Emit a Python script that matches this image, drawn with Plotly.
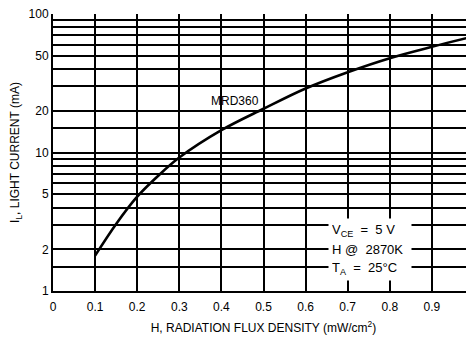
import plotly.graph_objects as go

# Data
flux = [0.1, 0.15, 0.2, 0.25, 0.3, 0.4, 0.5, 0.6, 0.7, 0.8, 0.9, 1.0]
current = [1.8, 3.05, 4.8, 6.8, 9.2, 14.5, 20.7, 29, 38, 48, 58, 69]

x_ticks = [0, 0.1, 0.2, 0.3, 0.4, 0.5, 0.6, 0.7, 0.8, 0.9, 1]
x_labels = ["0", "0.1", "0.2", "0.3", "0.4", "0.5", "0.6", "0.7", "0.8", "0.9", "1"]
y_ticks = [1, 2, 5, 10, 20, 50, 100]
y_labels = ["1", "2", "5", "10", "20", "50", "100"]
y_grid = [1.5, 3, 4, 6, 7, 8, 9, 15, 30, 40, 60, 70, 80, 90]

condition_lines = ["V<sub>CE</sub>  =  5 V", "H @  2870K", "T<sub>A</sub>  =  25°C"]

FONT = "Liberation Sans, Arial, sans-serif"

fig = go.Figure()
fig.add_trace(go.Scatter(
    x=flux, y=current, mode="lines",
    line=dict(color="black", width=2.6, shape="spline", smoothing=1.0),
    showlegend=False, hoverinfo="skip",
))

fig.add_annotation(x=0.432, y=1.372, xref="x", yref="y", text="MRD360",
                   showarrow=False, font=dict(size=12, color="black", family=FONT))

for i, line in enumerate(condition_lines):
    fig.add_annotation(
        x=0.753, y=0.439 - 0.137 * i, xref="x", yref="y",
        text=line, showarrow=False, align="left", width=76,
        bgcolor="white", borderpad=3,
        font=dict(size=13, color="black", family=FONT),
    )

fig.update_layout(
    width=466, height=336,
    margin=dict(l=45, r=0, t=6, b=53),
    paper_bgcolor="white", plot_bgcolor="white",
    font=dict(family=FONT, size=12, color="black"),
    xaxis=dict(
        range=[0, 1], tickvals=x_ticks, ticktext=x_labels, automargin=False,
        ticklabeloverflow="allow",
        showgrid=True, gridcolor="#000", gridwidth=1.5,
        showline=True, linecolor="black", linewidth=2, mirror=False,
        ticks="", zeroline=False, ticklabelstandoff=4,
        title=dict(text="H, RADIATION FLUX DENSITY (mW/cm<sup>2</sup>)", standoff=10,
                   font=dict(size=12, family=FONT)),
    ),
    yaxis=dict(
        type="log", range=[0, 2], tickvals=y_ticks, ticktext=y_labels, automargin=False,
        ticklabeloverflow="allow",
        showgrid=True, gridcolor="#000", gridwidth=1.5,
        showline=True, linecolor="black", linewidth=2,
        ticks="", zeroline=False,
        minor=dict(tickvals=y_grid, showgrid=True, gridcolor="#000", gridwidth=1.5, ticks=""),
        title=dict(text="I<sub>L</sub>, LIGHT CURRENT (mA)", standoff=12,
                   font=dict(size=12, family=FONT)),
    ),
)

fig.write_html("out.html")
